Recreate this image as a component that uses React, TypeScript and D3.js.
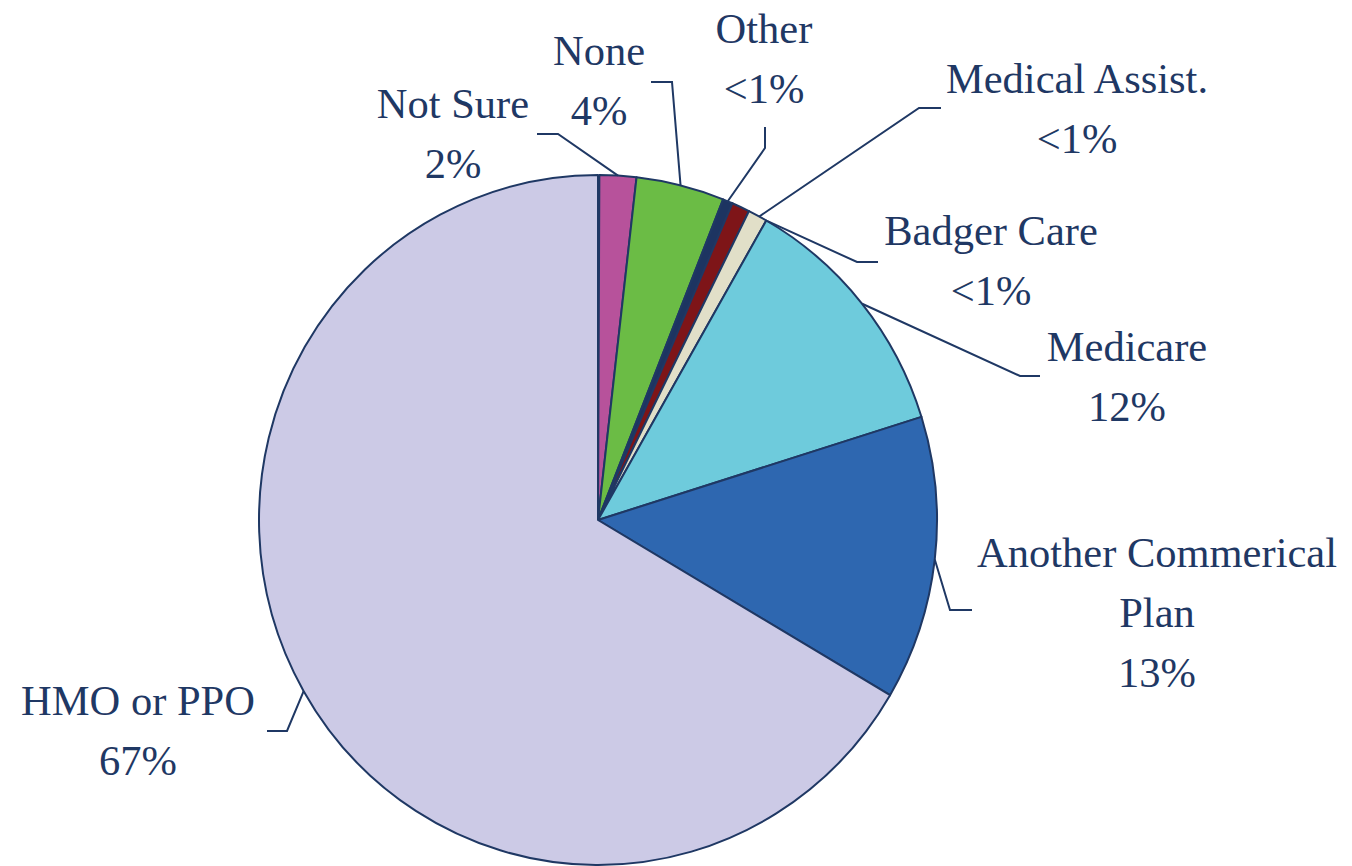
import React from "react";
import * as d3 from "d3";

const categories = [
  "Not Sure",
  "None",
  "Other",
  "Medical Assist.",
  "Badger Care",
  "Medicare",
  "Another Commerical Plan",
  "HMO or PPO",
];
const values = [1.75, 4.2, 0.47, 0.86, 0.92, 11.9, 13.3, 66.5];
const valueLabels = ["2%", "4%", "<1%", "<1%", "<1%", "12%", "13%", "67%"];
const labelLines = [
  ["Not Sure"],
  ["None"],
  ["Other"],
  ["Medical Assist."],
  ["Badger Care"],
  ["Medicare"],
  ["Another Commerical", "Plan"],
  ["HMO or PPO"],
];
const colors = [
  "#B7529B",
  "#6BBC45",
  "#1D3461",
  "#7E1518",
  "#E1DFC8",
  "#6ECBDC",
  "#2E67B0",
  "#CCCAE6",
];

// layout: label center x, first baseline y, leader elbow, leader end, anchor angle nudge (deg)
const labelLayout = [
  { x: 453, y: 118, ex: 558, ey: 134, tx: 537, ty: 134, nudge: 0 },
  { x: 599, y: 65, ex: 672, ey: 82, tx: 651, ty: 82, nudge: 0 },
  { x: 764, y: 43, ex: 765, ey: 148, tx: 765, ty: 127, nudge: 0 },
  { x: 1077, y: 93, ex: 919, ey: 108, tx: 941, ty: 108, nudge: 3.5 },
  { x: 991, y: 245, ex: 857, ey: 262, tx: 878, ty: 262, nudge: 1.8 },
  { x: 1127, y: 361, ex: 1020, ey: 376, tx: 1040, ty: 376, nudge: 0 },
  { x: 1157, y: 567, ex: 950, ey: 610, tx: 972, ty: 610, nudge: 0 },
  { x: 138, y: 715, ex: 287, ey: 731, tx: 267, ty: 731, nudge: 0 },
];

const W = 1352;
const H = 866;
const CX = 598;
const CY = 520;
const RX = 339;
const RY = 345;
const INK = "#1F3864";
const LINE_H = 60;

export default function App() {
  const data = categories.map((c, i) => ({ name: c, value: values[i], i }));
  const pie = d3
    .pie<any>()
    .sort(null)
    .value((d: any) => d.value)
    .startAngle(0.004)
    .endAngle(2 * Math.PI);
  const arcs = pie(data);
  const arc = d3.arc<any>().innerRadius(0).outerRadius(RY);

  const rimPoint = (angle: number) => [
    CX + RX * Math.sin(angle),
    CY - RY * Math.cos(angle),
  ];

  return (
    <svg
      width={W}
      height={H}
      style={{ position: "absolute", left: 0, top: 0, display: "block", background: "#fff" }}
    >
      <g transform={`translate(${CX},${CY}) scale(${RX / RY},1)`}>
        {arcs.map((a, i) => (
          <path
            key={i}
            d={arc(a) as string}
            fill={colors[i]}
            stroke={INK}
            strokeWidth={2}
            strokeLinejoin="round"
            vectorEffect="non-scaling-stroke"
          />
        ))}
      </g>
      {arcs.map((a, i) => {
        const L = labelLayout[i];
        const mid = (a.startAngle + a.endAngle) / 2 + (L.nudge * Math.PI) / 180;
        const [sx, sy] = rimPoint(mid);
        return (
          <path
            key={"l" + i}
            d={`M${sx},${sy}L${L.ex},${L.ey}L${L.tx},${L.ty}`}
            fill="none"
            stroke={INK}
            strokeWidth={2}
          />
        );
      })}
      {arcs.map((a, i) => {
        const L = labelLayout[i];
        const lines = [...labelLines[i], valueLabels[i]];
        return (
          <text
            key={"t" + i}
            x={L.x}
            y={L.y}
            textAnchor="middle"
            fontFamily='"Liberation Serif", "Times New Roman", serif'
            fontSize={42.5}
            fill={INK}
          >
            {lines.map((ln, j) => (
              <tspan key={j} x={L.x} y={L.y + j * LINE_H}>
                {ln}
              </tspan>
            ))}
          </text>
        );
      })}
    </svg>
  );
}
